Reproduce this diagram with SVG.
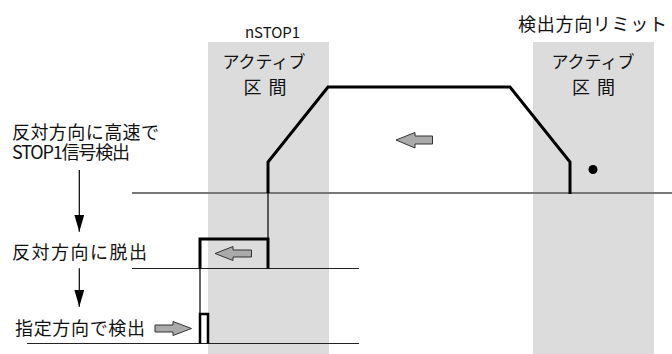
<svg xmlns="http://www.w3.org/2000/svg" width="672" height="354" viewBox="0 0 672 354">
  <style>
    .band { fill: #dcdcdc; }
    .txt { font-family: "Noto Sans CJK JP", "Liberation Sans", sans-serif; font-size: 18px; fill: #111; }
    .sm { font-size: 15px; }
    .act { font-size: 17px; }
    .base1 { stroke: #777; stroke-width: 2; fill: none; }
    .base { stroke: #222; stroke-width: 1.2; fill: none; }
    .thick { stroke: #000; stroke-width: 3; fill: none; stroke-linejoin: miter; }
    .pulse { stroke: #000; stroke-width: 2.5; fill: none; }
    .thin { stroke: #000; stroke-width: 1.2; fill: none; }
    .blk { fill: #aaaaaa; stroke: #333; stroke-width: 1; stroke-linejoin: miter; }
    .down { stroke: #000; stroke-width: 1.2; fill: none; }
  </style>
  <defs>
    <marker id="ah" viewBox="0 0 17 10" refX="17" refY="5" markerWidth="17" markerHeight="10" markerUnits="userSpaceOnUse" orient="auto">
      <path d="M0,0 L17,5 L0,10 Z" fill="#000"/>
    </marker>
  </defs>

  <g id="band-nstop1">
    <rect class="band" x="208" y="42" width="121" height="312"/>
    <text class="txt sm" x="245" y="37.5" textLength="55">nSTOP1</text>
    <text class="txt act" x="264" y="67.5" text-anchor="middle">アクティブ</text>
    <text class="txt" x="243.5" y="93.5" textLength="43">区間</text>
  </g>

  <g id="band-limit">
    <rect class="band" x="533" y="42" width="121" height="312"/>
    <text class="txt" x="518" y="30.5" textLength="149">検出方向リミット</text>
    <text class="txt act" x="593" y="67.5" text-anchor="middle">アクティブ</text>
    <text class="txt" x="572" y="93.5" textLength="43">区間</text>
  </g>

  <g id="labels">
    <text class="txt" x="12" y="139" textLength="147">反対方向に高速で</text>
    <text class="txt" x="12" y="159" textLength="118">STOP1信号検出</text>
    <text class="txt" x="12" y="258.5" textLength="135">反対方向に脱出</text>
    <text class="txt" x="15" y="334.5" textLength="130">指定方向で検出</text>
  </g>

  <g id="baselines">
    <line class="base1" x1="132" y1="193" x2="672" y2="193"/>
    <line class="base" x1="132" y1="268.5" x2="359" y2="268.5"/>
    <line class="base" x1="27" y1="343.5" x2="359" y2="343.5"/>
  </g>

  <g id="connectors">
    <polyline class="thick" points="268,193 268,162 328,87 510,87 570,162 570,194"/>
    <line class="thin" x1="268" y1="193" x2="268" y2="239"/>
    <polyline class="thick" points="200,268.5 200,239 268,239 268,268.5"/>
    <line class="thin" x1="200" y1="268.5" x2="200" y2="314"/>
    <polyline class="pulse" points="200,343.5 200,314 208,314 208,343.5"/>
    <line class="down" x1="79.3" y1="170" x2="79.3" y2="231.7" marker-end="url(#ah)"/>
    <line class="down" x1="79.3" y1="268.3" x2="79.3" y2="306.7" marker-end="url(#ah)"/>
  </g>

  <g id="dot">
    <circle cx="593" cy="169.5" r="4.5" fill="#000"/>
  </g>

  <g id="block-arrows">
    <path class="blk" d="M396,140 L415,132.5 L415,136 L432.5,136 L432.5,144 L415,144 L415,148 Z"/>
    <path class="blk" d="M215,253.5 L233,246.5 L233,250 L251.5,250 L251.5,257 L233,257 L233,260.5 Z"/>
    <path class="blk" d="M191.5,328.5 L173,321.5 L173,325 L155,325 L155,332 L173,332 L173,335.5 Z"/>
  </g>
</svg>
